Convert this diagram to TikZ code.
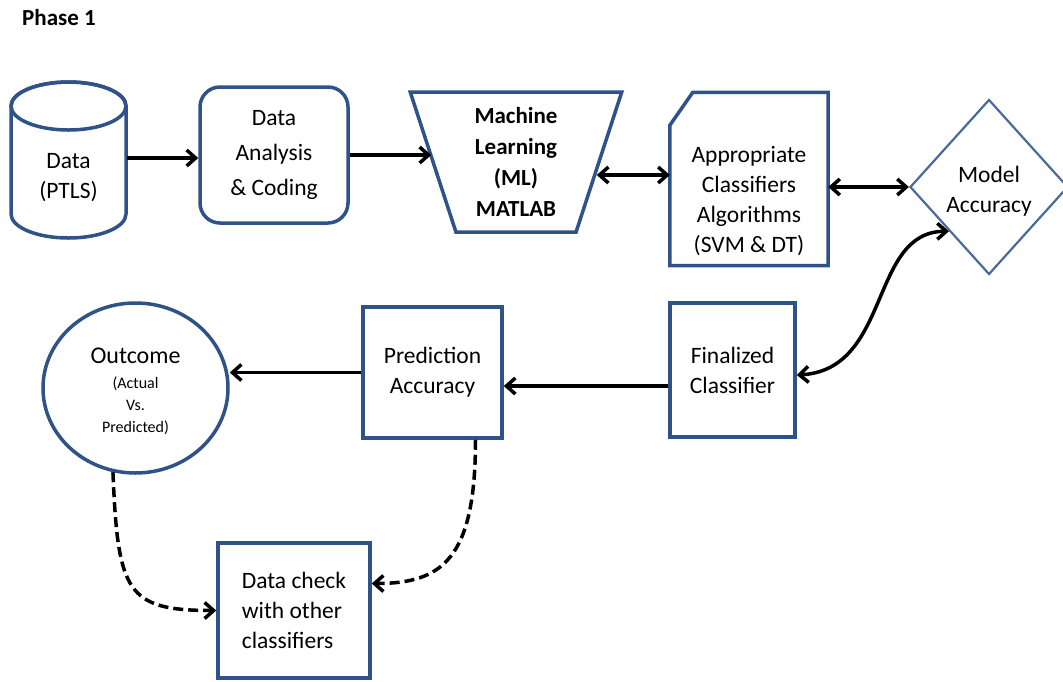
\documentclass[tikz,border=0pt]{standalone}
\usepackage{fontspec}
\setmainfont{Carlito}
\usetikzlibrary{shapes.geometric,arrows.meta}
\definecolor{boxblue}{HTML}{2F5288}
\definecolor{diablue}{HTML}{4A6A9A}

\begin{document}
\begin{tikzpicture}[x=1pt,y=-1pt,
    every node/.style={font=\fontsize{23.5}{30}\selectfont, align=center, inner sep=2pt},
    blockbox/.style={draw=boxblue, line width=3.5pt, fill=white},
    link/.style={line width=3.5pt, -{Straight Barb[length=9pt,width=16pt,line width=3.5pt]}},
    dbllink/.style={line width=3.5pt, {Straight Barb[length=9pt,width=16pt,line width=3.5pt]}-{Straight Barb[length=9pt,width=16pt,line width=3.5pt]}},
    checklink/.style={link, dash pattern=on 10pt off 5pt}]
    \useasboundingbox (0,0) rectangle (1063,681);
    \node[font=\fontsize{23}{26}\selectfont\bfseries, anchor=west] (title) at (20,18) {Phase 1};
    % top row
    \draw[blockbox] (11,106) -- (11,214) arc[start angle=180, end angle=0, x radius=57.5, y radius=24]
        -- (126,106) arc[start angle=0, end angle=-180, x radius=57.5, y radius=24] -- cycle;
    \draw[draw=boxblue, line width=3.5pt] (68.5,106) ellipse[x radius=57.5, y radius=24];
    \node[minimum width=116pt, minimum height=100pt] (data) at (68.5,178) {Data\\(PTLS)};
    \node[blockbox, rounded corners=20pt, minimum width=148pt, minimum height=136pt, font=\fontsize{23.5}{35}\selectfont] (analysis) at (274,155) {Data\\Analysis\\\& Coding};
    \node[blockbox, trapezium, shape border rotate=180, trapezium left angle=73.7, trapezium right angle=73.7, trapezium stretches=true, minimum width=212pt, minimum height=140pt, font=\fontsize{23}{31}\selectfont\bfseries] (ml) at (516,162) {Machine\\Learning\\(ML)\\MATLAB};
    \node[minimum width=158pt, minimum height=173pt] (algos) at (749,179) {};
    \draw[blockbox, line join=miter] (algos.south west) -- ([yshift=-33pt]algos.north west) -- ([xshift=23pt]algos.north west)
        -- (algos.north east) -- (algos.south east) -- cycle;
    \node (algostext) at ([yshift=-22pt]algos.center) {Appropriate\\Classifiers\\Algorithms\\(SVM \& DT)};
    \node[draw=diablue, line width=2.2pt, fill=white, diamond, inner sep=0pt, minimum width=158pt, minimum height=175pt] (accuracy) at (989,187) {};
    \node (accuracytext) at ([yshift=-4pt]accuracy.center) {Model\\Accuracy};
    % bottom row
    \node[blockbox, minimum width=125pt, minimum height=134pt] (final) at (732.5,370) {Finalized\\Classifier};
    \node[blockbox, minimum width=139pt, minimum height=131pt] (predict) at (432.5,372.5) {Prediction\\Accuracy};
    \node[blockbox, ellipse, inner sep=0pt, minimum width=185pt, minimum height=170pt] (outcome) at (135.5,388) {};
    \node (outcometext) at ([yshift=-3pt]outcome.center) {\fontsize{24}{26}\selectfont Outcome\\[-5pt]\fontsize{16}{22}\selectfont (Actual\\[-8pt]\fontsize{16}{22}\selectfont Vs.\\[-8pt]\fontsize{16}{22}\selectfont Predicted)};
    \node[blockbox, minimum width=152pt, minimum height=135pt, align=left] (check) at (294,610.5) {Data check\\with other\\classifiers};
    % connectors
    \draw[link] ([yshift=20pt]data.east) -- ([yshift=20pt]data.east -| analysis.west);
    \draw[link] (analysis.east) -- (ml.west |- analysis.east);
    \coordinate (mlr) at ([xshift=-4pt,yshift=-13pt]ml.east);
    \draw[dbllink] (mlr) -- (mlr -| algos.west);
    \draw[dbllink] (algos.east |- accuracy.west) -- (accuracy.west);
    \draw[dbllink] (accuracy.south west) .. controls +(-80,0) and +(95,-5) .. ([yshift=-5pt]final.east);
    \coordinate (finl) at ([yshift=-16pt]final.west);
    \draw[link] (finl) -- (finl -| predict.east);
    \draw[link] (predict.west) -- (predict.west -| outcome.east);
    \draw[checklink] (outcome.-105) .. controls +(5,120) and +(-90,0) .. (check.west);
    \draw[checklink] ([xshift=43pt]predict.south) .. controls +(0,120) and +(70,0) .. ([yshift=27pt]check.east);
\end{tikzpicture}
\end{document}
